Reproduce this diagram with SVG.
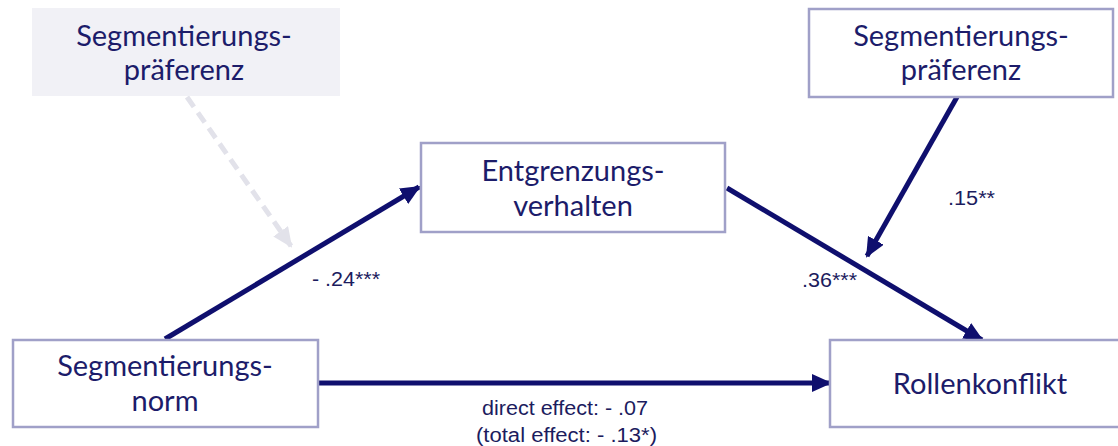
<svg xmlns="http://www.w3.org/2000/svg" width="1118" height="446" viewBox="0 0 1118 446">
<defs>
<style>
.box{fill:#ffffff;stroke:#a0a0c8;stroke-width:2.5}
.ghost{fill:#f1f1f6;stroke:none}
.nt{font-family:Lato,"Open Sans","Liberation Sans",sans-serif;font-size:29px;fill:#1c1c6a;text-anchor:middle}
.lb{font-family:"Liberation Sans",Arial,sans-serif;font-size:20px;fill:#1c1c5e}
.arr{stroke:#0f0f6e;stroke-width:5;fill:none}
.dash{stroke:#e2e2ea;stroke-width:5;fill:none;stroke-dasharray:12 7}
</style>
<marker id="ah" markerUnits="userSpaceOnUse" markerWidth="20" markerHeight="18" refX="18" refY="9" orient="auto">
<path d="M0,0 L20,9 L0,18 Z" fill="#0f0f6e"/>
</marker>
<marker id="ahg" markerUnits="userSpaceOnUse" markerWidth="20" markerHeight="18" refX="18" refY="9" orient="auto">
<path d="M0,0 L20,9 L0,18 Z" fill="#e2e2ea"/>
</marker>
</defs>
<rect width="1118" height="446" fill="#ffffff"/>
<g id="connectors">
<line class="dash" x1="187" y1="97" x2="291" y2="246" marker-end="url(#ahg)"/>
<line class="arr" x1="165" y1="339" x2="419" y2="187" marker-end="url(#ah)"/>
<line class="arr" x1="727" y1="188" x2="982" y2="340" marker-end="url(#ah)"/>
<line class="arr" x1="957" y1="97" x2="867" y2="256" marker-end="url(#ah)"/>
<line class="arr" x1="318" y1="383" x2="830" y2="383" marker-end="url(#ah)"/>
<text class="lb" x="312" y="286" textLength="68" lengthAdjust="spacingAndGlyphs">- .24***</text>
<text class="lb" x="802" y="287" textLength="55" lengthAdjust="spacingAndGlyphs">.36***</text>
<text class="lb" x="948" y="205" textLength="47" lengthAdjust="spacingAndGlyphs">.15**</text>
<text class="lb" x="482" y="415" textLength="166" lengthAdjust="spacingAndGlyphs">direct effect: - .07</text>
<text class="lb" x="476" y="442" textLength="181" lengthAdjust="spacingAndGlyphs">(total effect: - .13*)</text>
</g>
<g id="node-pref-left">
<rect class="ghost" x="32" y="8" width="308" height="88"/>
<text class="nt" x="184" y="46">Segmentierungs-</text>
<text class="nt" x="184" y="80">präferenz</text>
</g>
<g id="node-pref-right">
<rect class="box" x="809" y="9" width="304" height="88"/>
<text class="nt" x="961" y="46">Segmentierungs-</text>
<text class="nt" x="961" y="80">präferenz</text>
</g>
<g id="node-entgrenzung">
<rect class="box" x="421" y="143" width="304" height="89"/>
<text class="nt" x="573" y="181">Entgrenzungs-</text>
<text class="nt" x="573" y="216">verhalten</text>
</g>
<g id="node-norm">
<rect class="box" x="13" y="340" width="305" height="87"/>
<text class="nt" x="165" y="376">Segmentierungs-</text>
<text class="nt" x="165" y="411">norm</text>
</g>
<g id="node-rollenkonflikt">
<rect class="box" x="830" y="340" width="290" height="87"/>
<text class="nt" x="980" y="394">Rollenkonflikt</text>
</g>
</svg>
